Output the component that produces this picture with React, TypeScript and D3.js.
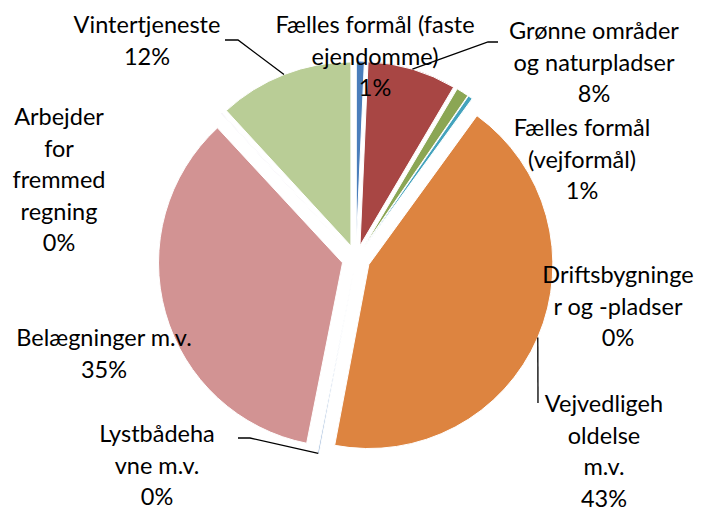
import React, { useEffect, useRef } from "react";
import * as d3 from "d3";

// slice order clockwise from 12 o'clock
const categories = [
  "Fælles formål (faste ejendomme)",
  "Grønne områder og naturpladser",
  "Fælles formål (vejformål)",
  "Driftsbygninger og -pladser",
  "Vejvedligeholdelse m.v.",
  "Lystbådehavne m.v.",
  "Belægninger m.v.",
  "Arbejder for fremmed regning",
  "Vintertjeneste",
];
const values = [0.7, 7.8, 1.1, 0.4, 43.0, 0.15, 35.0, 0.05, 11.85];
const colors = [
  "#4a7ebb",
  "#a84644",
  "#8ba654",
  "#44a3bd",
  "#dd8440",
  "#a9c1de",
  "#d29393",
  "#b7a9cc",
  "#b9cd96",
];
// wrapped label lines as shown in the chart
const labelLines = [
  ["Fælles formål (faste", "ejendomme)"],
  ["Grønne områder", "og naturpladser"],
  ["Fælles formål", "(vejformål)"],
  ["Driftsbygninge", "r og -pladser"],
  ["Vejvedligeh", "oldelse", "m.v."],
  ["Lystbådeha", "vne m.v."],
  ["Belægninger m.v."],
  ["Arbejder", "for", "fremmed", "regning"],
  ["Vintertjeneste"],
];
// label block centre x / first line y
const labelPos = [
  [375, 25],
  [594, 31],
  [582, 128],
  [618, 275],
  [604, 404],
  [157, 434],
  [104, 338],
  [59, 117],
  [147, 25],
];

const App = () => {
  const svgRef = useRef<SVGSVGElement>(null);

  useEffect(() => {
    const svg = d3.select(svgRef.current);
    svg.selectAll("*").remove();

    const width = 702;
    const height = 512;
    const cx = 356;
    const cy = 259;
    const radius = 184;
    const explode = 14;
    const lineH = 31.5;

    svg.attr("width", width).attr("height", height);

    const total = d3.sum(values);
    const pie = d3
      .pie<number>()
      .sort(null)
      .value((d) => d);
    const arcs = pie(values);

    const arc = d3.arc<d3.PieArcDatum<number>>().innerRadius(0).outerRadius(radius);
    const edge = d3.arc<d3.PieArcDatum<number>>().innerRadius(radius).outerRadius(radius);

    const offset = (d: d3.PieArcDatum<number>) => {
      const a = (d.startAngle + d.endAngle) / 2;
      return [Math.sin(a) * explode, -Math.cos(a) * explode];
    };

    const g = svg.append("g").attr("transform", `translate(${cx},${cy})`);

    g.selectAll(".slice")
      .data(arcs)
      .join("path")
      .attr("class", "slice")
      .attr("transform", (d) => {
        const [dx, dy] = offset(d);
        return `translate(${dx},${dy})`;
      })
      .attr("d", arc)
      .attr("fill", (d, i) => colors[i])
      .attr("stroke", "#fff")
      .attr("stroke-width", 1);

    // leader lines from the slice edge to the moved labels
    const edgePoint = (i: number) => {
      const d = arcs[i];
      const [dx, dy] = offset(d);
      const [ex, ey] = edge.centroid(d);
      return [cx + dx + ex, cy + dy + ey];
    };
    const leaders: [number, number][][] = [
      [[225, 40], [238, 40], edgePoint(8) as [number, number]],
      [edgePoint(1) as [number, number], [488, 42], [498, 42]],
      [edgePoint(4) as [number, number], [538, 403]],
      [[238, 438], [250, 438], edgePoint(5) as [number, number]],
    ];
    svg
      .selectAll(".leader")
      .data(leaders)
      .join("path")
      .attr("class", "leader")
      .attr("d", (d) => d3.line()(d))
      .attr("fill", "none")
      .attr("stroke", "#000")
      .attr("stroke-width", 1.3);

    const labels = svg
      .selectAll(".label")
      .data(categories)
      .join("text")
      .attr("class", "label")
      .attr("text-anchor", "middle")
      .attr("font-family", "Lato, 'Open Sans', sans-serif")
      .attr("font-size", "23.5px")
      .attr("fill", "#000");

    labels.each(function (name, i) {
      const t = d3.select(this);
      const pct = Math.round((values[i] / total) * 100) + "%";
      const lines = [...labelLines[i], pct];
      const [x, y] = labelPos[i];
      lines.forEach((ln, k) => {
        t.append("tspan")
          .attr("x", x)
          .attr("y", y + k * lineH)
          .attr("dy", "0.35em")
          .text(ln);
      });
    });
  }, []);

  return (
    <svg
      ref={svgRef}
      style={{ position: "absolute", left: 0, top: 0, background: "#fff" }}
    ></svg>
  );
};

export default App;
